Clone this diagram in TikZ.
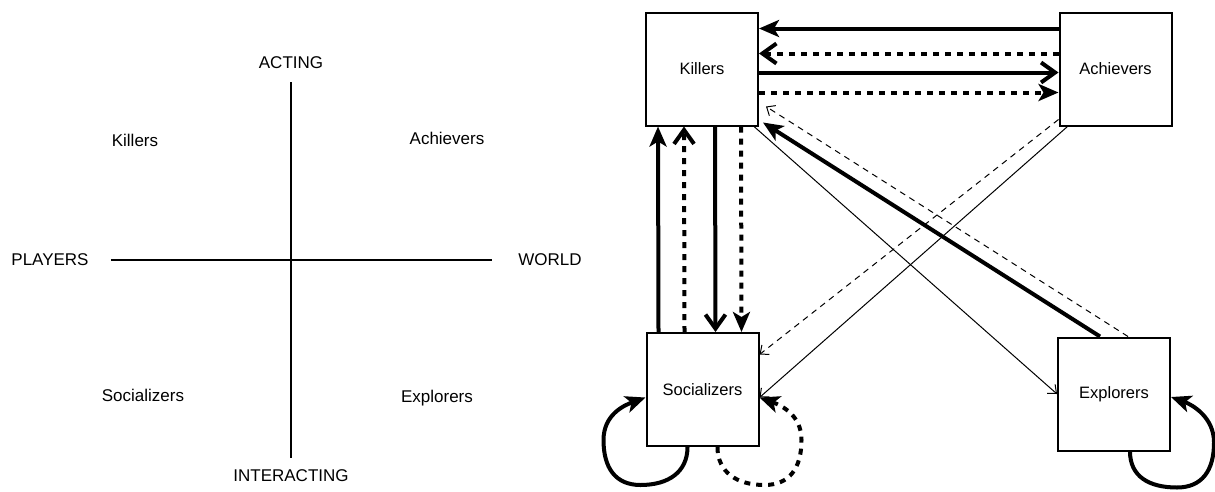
\documentclass[tikz,border=0pt]{standalone}
\usepackage{fontspec}
\setmainfont{Liberation Sans}
\usetikzlibrary{arrows.meta}

\begin{document}
\begin{tikzpicture}[
    x=1pt, y=-1pt,
    every node/.style={inner sep=0pt,font=\fontsize{16.5}{19}\selectfont},
    label/.style={font=\fontsize{17}{20}\selectfont},
    box/.style={draw,line width=2pt,minimum width=112pt,minimum height=113pt},
    axis/.style={line width=2pt},
    heavy/.style={line width=4pt},
    dots/.style={line width=4pt,dash pattern=on 6pt off 6pt},
    light/.style={line width=1pt},
    lightdash/.style={line width=1pt,dash pattern=on 6pt off 5pt},
    full/.style={-{Stealth[length=20pt,width=17pt,inset=5pt]}},
    barb/.style={-{Straight Barb[length=14pt,width=20pt]}},
    smalltip/.style={-{Straight Barb[length=7pt,width=12pt]}}
  ]
  \useasboundingbox (0,0) rectangle (1215,491);

  % the two axes
  \node[label] (acting) at (291,63) {ACTING};
  \node[label] (interacting) at (291,476) {INTERACTING};
  \node[label] (players) at (50,260) {PLAYERS};
  \node[label] (world) at (550,260) {WORLD};
  \draw[axis] ([yshift=-13pt]acting.south) -- ([yshift=12pt]interacting.north);
  \draw[axis] ([xshift=22pt]players.east) -- ([xshift=-26pt]world.west);
  \node[label] (qkil) at (135,140) {Killers};
  \node[label] (qach) at (447,138) {Achievers};
  \node[label] (qsoc) at (143,395) {Socializers};
  \node[label] (qexp) at (437,398) {Explorers};

  % the four types
  \node[box] (kil) at (702,69) {Killers};
  \node[box] (ach) at (1115.5,69) {Achievers};
  \node[box] (soc) at (702.5,389.5) {Socializers};
  \node[box] (exp) at (1114,394) {Explorers};

  \draw[heavy,full] ([yshift=-17pt]ach.north west) -- ([yshift=-17pt]kil.north east);
  \draw[dots,barb] ([yshift=-42pt]ach.north west) -- ([yshift=-42pt]kil.north east);
  \draw[heavy,barb] ([yshift=-61pt]kil.north east) -- ([yshift=-61pt]ach.north west);
  \draw[dots,full] ([yshift=-81pt]kil.north east) -- ([yshift=-81pt]ach.north west);

  \draw[heavy,full] ([xshift=13pt]soc.north west) -- ([xshift=13pt]kil.south west);
  \draw[dots,barb] ([xshift=39pt]soc.north west) -- ([xshift=39pt]kil.south west);
  \draw[heavy,barb] ([xshift=70pt]kil.south west) -- ([xshift=70pt]soc.north west);
  \draw[dots,full] ([xshift=96pt]kil.south west) -- ([xshift=96pt]soc.north west);

  \draw[heavy,full] ([xshift=-14pt]exp.north) -- ([xshift=4pt,yshift=4pt]kil.south east);
  \draw[lightdash,smalltip] ([xshift=14pt]exp.north) -- ([xshift=7pt,yshift=20pt]kil.south east);
  \draw[light,smalltip] ([xshift=-5pt]kil.south east) -- (exp.west);
  \draw[light,smalltip] ([xshift=9pt]ach.south west) -- ([yshift=-8pt]soc.east);
  \draw[lightdash,smalltip] ([yshift=7pt]ach.south west) -- ([yshift=35pt]soc.east);

  % loops
  \draw[heavy,full] ([xshift=-15pt]soc.south)
    .. controls +(0,25) and +(28,0) .. ++(-47,38)
    .. controls +(-25,0) and +(0,28) .. ++(-37,-45)
    .. controls +(0,-25) and +(-22,8) .. ([yshift=-8pt]soc.west);
  \draw[dots,full] ([xshift=15pt]soc.south)
    .. controls +(0,25) and +(-28,0) .. ++(47,38)
    .. controls +(25,0) and +(0,28) .. ++(37,-45)
    .. controls +(0,-25) and +(22,8) .. ([yshift=-8pt]soc.east);
  \draw[heavy,full] ([xshift=16pt]exp.south)
    .. controls +(0,25) and +(-28,0) .. ++(47,36)
    .. controls +(25,0) and +(0,28) .. ++(37,-45)
    .. controls +(0,-25) and +(22,8) .. ([yshift=-3pt]exp.east);
\end{tikzpicture}
\end{document}
